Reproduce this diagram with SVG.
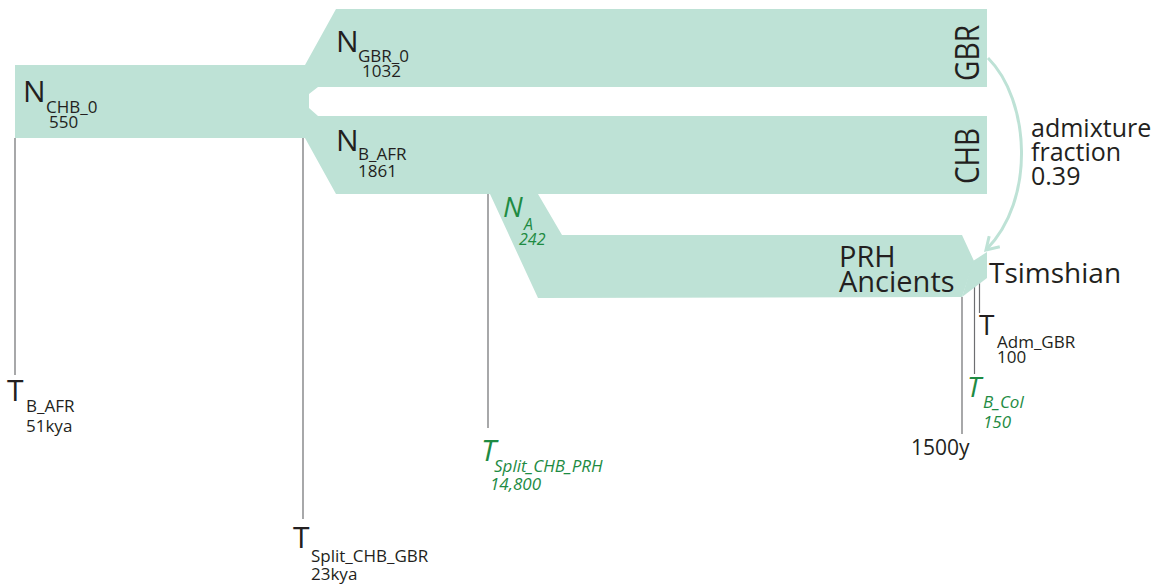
<svg xmlns="http://www.w3.org/2000/svg" width="1159" height="585" viewBox="0 0 1159 585">
  <style>
    .band { fill: #bee2d6; stroke: none; }
    .t { font-family: "Open Sans", "Liberation Sans", sans-serif; fill: #231f20; }
    .g { font-family: "Open Sans", "Liberation Sans", sans-serif; fill: #1e8b43; font-style: italic; }
    .big { font-size: 30px; }
    .sub { font-size: 17px; }
    .tick { stroke: #6d6e71; stroke-width: 1.2; fill: none; }
    .flow { stroke: #bee2d6; stroke-width: 3; fill: none; }
  </style>
  <defs>
    <marker id="chevron" viewBox="0 0 12 12" refX="10" refY="6" markerWidth="6" markerHeight="6" markerUnits="strokeWidth" orient="auto">
      <path d="M2 1 L10 6 L2 11" fill="none" stroke="#bee2d6" stroke-width="2"/>
    </marker>
  </defs>

  <!-- time markers -->
  <g id="time-lines">
    <line class="tick" x1="15" y1="138" x2="15" y2="375"/>
    <line class="tick" x1="303" y1="138" x2="303" y2="519"/>
    <line class="tick" x1="488" y1="194" x2="488" y2="428"/>
    <line class="tick" x1="962" y1="297" x2="962" y2="434"/>
    <line class="tick" x1="974.5" y1="272" x2="974.5" y2="374"/>
    <line class="tick" x1="979.5" y1="272" x2="979.5" y2="313"/>
  </g>

  <!-- ancestral CHB_0 population splitting into GBR and CHB -->
  <g id="node-chb0">
    <polygon class="band" points="15,65 305,65 336,9 987,9 987,87 318,87 309,94 309,108 318,116 987,116 987,194 336,194 305,138 15,138"/>
    <text class="t big" x="23" y="102">N</text>
    <text class="t sub" x="46" y="113">CHB_0</text>
    <text class="t sub" x="49" y="128">550</text>
  </g>

  <g id="node-gbr">
    <text class="t big" x="336" y="52">N</text>
    <text class="t sub" x="358" y="62">GBR_0</text>
    <text class="t sub" x="362" y="77">1032</text>
    <text class="t" font-size="32" text-anchor="middle" textLength="56" lengthAdjust="spacingAndGlyphs" transform="translate(979 53) rotate(-90)">GBR</text>
  </g>

  <g id="node-chb">
    <text class="t big" x="336" y="151">N</text>
    <text class="t sub" x="358" y="160">B_AFR</text>
    <text class="t sub" x="358" y="177">1861</text>
    <text class="t" font-size="32" text-anchor="middle" textLength="56" lengthAdjust="spacingAndGlyphs" transform="translate(979 156) rotate(-90)">CHB</text>
  </g>

  <!-- PRH ancients branch -->
  <g id="node-prh">
    <polygon class="band" points="490,194 538,194 562,235 962,235 974,261 962,297 538,298"/>
    <text class="g" font-size="28" x="503" y="217">N</text>
    <text class="g" font-size="16" x="524" y="230">A</text>
    <text class="g" font-size="16" x="519" y="245">242</text>
    <text class="t" font-size="29" x="839" y="267">PRH</text>
    <text class="t" font-size="29" x="839" y="292">Ancients</text>
  </g>

  <g id="node-tsimshian">
    <polygon class="band" points="973,261 987,252 987,278 962,297"/>
    <text class="t" font-size="28" x="989" y="283">Tsimshian</text>
  </g>

  <!-- admixture pulse from GBR -->
  <g id="connectors">
    <path class="flow" d="M988 58 C1030 100 1036 200 986 250" marker-end="url(#chevron)"/>
    <text class="t" font-size="25" x="1031" y="137">admixture</text>
    <text class="t" font-size="25" x="1031" y="161">fraction</text>
    <text class="t" font-size="25" x="1031" y="185">0.39</text>
  </g>

  <!-- time labels -->
  <g id="label-t-bafr">
    <text class="t big" x="7" y="401">T</text>
    <text class="t sub" x="26" y="412">B_AFR</text>
    <text class="t sub" x="26" y="432">51kya</text>
  </g>
  <g id="label-t-split-gbr">
    <text class="t big" x="293" y="548">T</text>
    <text class="t sub" x="311" y="562">Split_CHB_GBR</text>
    <text class="t sub" x="311" y="580">23kya</text>
  </g>
  <g id="label-t-split-prh">
    <text class="g big" x="481" y="461">T</text>
    <text class="g sub" x="494" y="472">Split_CHB_PRH</text>
    <text class="g sub" x="490" y="490">14,800</text>
  </g>
  <g id="label-t-adm">
    <text class="t" font-size="28" x="979" y="335">T</text>
    <text class="t sub" x="997" y="348">Adm_GBR</text>
    <text class="t sub" x="997" y="363">100</text>
  </g>
  <g id="label-t-bcol">
    <text class="g" font-size="28" x="967" y="397">T</text>
    <text class="g sub" x="983" y="408">B_Col</text>
    <text class="g sub" x="983" y="428">150</text>
  </g>
  <g id="label-1500">
    <text class="t" font-size="21" x="911" y="455">1500y</text>
  </g>
</svg>
